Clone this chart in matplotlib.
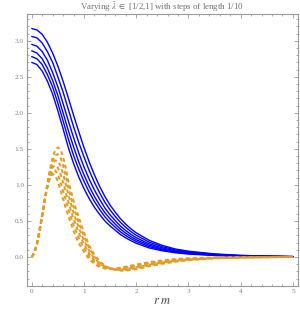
import matplotlib.pyplot as plt
from matplotlib.ticker import MultipleLocator

# radial grid for the profile curves (r m)
r_blue = [0, 0.1, 0.2, 0.3, 0.4, 0.5, 0.6, 0.7, 0.8, 0.9, 1.0, 1.1, 1.2, 1.3, 1.4,
          1.5, 1.6, 1.7, 1.8, 1.9, 2.0, 2.25, 2.5, 2.75, 3.0, 3.5, 4.0, 4.5, 5.0]

# solid blue profiles, one per lambda value
blue_1 = [3.17, 3.15, 3.09, 2.98, 2.83, 2.65, 2.44, 2.21, 1.97, 1.74, 1.52, 1.32, 1.14, 0.98, 0.84,
          0.72, 0.62, 0.53, 0.455, 0.39, 0.335, 0.23, 0.16, 0.11, 0.08, 0.042, 0.022, 0.012, 0.006]
blue_2 = [3.06, 3.04, 2.97, 2.85, 2.70, 2.50, 2.29, 2.05, 1.81, 1.59, 1.39, 1.20, 1.035, 0.89, 0.76,
          0.652, 0.561, 0.479, 0.411, 0.351, 0.301, 0.205, 0.142, 0.098, 0.071, 0.037, 0.019, 0.010, 0.005]
blue_3 = [2.95, 2.925, 2.85, 2.73, 2.56, 2.36, 2.13, 1.89, 1.66, 1.445, 1.25, 1.08, 0.93, 0.80, 0.68,
          0.584, 0.503, 0.427, 0.366, 0.313, 0.267, 0.181, 0.125, 0.086, 0.061, 0.032, 0.016, 0.009, 0.004]
blue_4 = [2.86, 2.83, 2.75, 2.62, 2.45, 2.24, 2.00, 1.755, 1.53, 1.32, 1.14, 0.98, 0.84, 0.72, 0.616,
          0.529, 0.455, 0.385, 0.33, 0.281, 0.239, 0.161, 0.110, 0.076, 0.054, 0.027, 0.014, 0.007, 0.003]
blue_5 = [2.78, 2.75, 2.67, 2.53, 2.36, 2.135, 1.89, 1.64, 1.41, 1.22, 1.05, 0.90, 0.77, 0.66, 0.558,
          0.479, 0.412, 0.347, 0.297, 0.253, 0.215, 0.143, 0.098, 0.067, 0.047, 0.024, 0.012, 0.006, 0.003]
blue_6 = [2.70, 2.67, 2.58, 2.44, 2.26, 2.03, 1.78, 1.52, 1.30, 1.11, 0.95, 0.81, 0.69, 0.59, 0.50,
          0.43, 0.37, 0.31, 0.265, 0.225, 0.19, 0.125, 0.085, 0.058, 0.04, 0.02, 0.01, 0.005, 0.002]

r_orange = [0, 0.05, 0.1, 0.15, 0.2, 0.25, 0.3, 0.35, 0.4, 0.45, 0.5, 0.55, 0.6, 0.65, 0.7,
            0.8, 0.9, 1.0, 1.1, 1.2, 1.3, 1.4, 1.5, 1.6, 1.7, 1.8,
            2.0, 2.25, 2.5, 2.75, 3.0, 3.5, 4.0, 4.5, 5.0]

# dashed orange curves
orange_1 = [0, 0.05, 0.17, 0.34, 0.55, 0.79, 1.02, 1.22, 1.38, 1.48, 1.52, 1.49, 1.39, 1.24, 1.06,
            0.78, 0.55, 0.34, 0.16, 0.03, -0.06, -0.12, -0.16, -0.18, -0.19, -0.19,
            -0.17, -0.13, -0.095, -0.066, -0.045, -0.02, -0.009, -0.004, -0.001]
orange_2 = [0, 0.052, 0.174, 0.348, 0.56, 0.792, 1.008, 1.194, 1.334, 1.41, 1.426, 1.378, 1.272, 1.128, 0.962,
            0.696, 0.478, 0.286, 0.122, 0.004, -0.076, -0.128, -0.161, -0.176, -0.182, -0.179,
            -0.157, -0.118, -0.085, -0.059, -0.040, -0.018, -0.008, -0.003, -0.001]
orange_3 = [0, 0.054, 0.178, 0.356, 0.57, 0.794, 0.996, 1.168, 1.288, 1.34, 1.332, 1.266, 1.154, 1.016, 0.864,
            0.612, 0.406, 0.232, 0.084, -0.022, -0.092, -0.136, -0.162, -0.172, -0.174, -0.168,
            -0.144, -0.107, -0.076, -0.052, -0.035, -0.015, -0.007, -0.003, -0.001]
orange_4 = [0, 0.056, 0.182, 0.364, 0.58, 0.796, 0.984, 1.142, 1.242, 1.27, 1.238, 1.154, 1.036, 0.904, 0.766,
            0.528, 0.334, 0.178, 0.046, -0.048, -0.108, -0.144, -0.163, -0.168, -0.166, -0.157,
            -0.131, -0.095, -0.066, -0.044, -0.029, -0.013, -0.005, -0.002, 0]
orange_5 = [0, 0.058, 0.186, 0.372, 0.59, 0.798, 0.972, 1.116, 1.196, 1.20, 1.144, 1.042, 0.918, 0.792, 0.668,
            0.444, 0.262, 0.124, 0.008, -0.074, -0.124, -0.152, -0.164, -0.164, -0.158, -0.146,
            -0.118, -0.084, -0.057, -0.037, -0.024, -0.010, -0.004, -0.002, 0]
orange_6 = [0, 0.06, 0.19, 0.38, 0.60, 0.80, 0.96, 1.09, 1.15, 1.13, 1.05, 0.93, 0.80, 0.68, 0.57,
            0.36, 0.19, 0.07, -0.03, -0.10, -0.14, -0.16, -0.165, -0.16, -0.15, -0.135,
            -0.105, -0.072, -0.047, -0.030, -0.019, -0.008, -0.003, -0.001, 0]

blue_curves = [blue_1, blue_2, blue_3, blue_4, blue_5, blue_6]
orange_curves = [orange_1, orange_2, orange_3, orange_4, orange_5, orange_6]

plt.rcParams["font.family"] = ["Liberation Serif", "DejaVu Serif"]
plt.rcParams["mathtext.fontset"] = "stix"

fig = plt.figure(figsize=(3.0, 3.13), dpi=100)
ax = fig.add_axes([0.089, 0.087, 0.903, 0.868])

for vals in blue_curves:
    ax.plot(r_blue, vals, color="#0000ff", lw=1.0, solid_capstyle="round")
for vals in orange_curves:
    ax.plot(r_orange, vals, color="#e19c24", lw=1.4, linestyle=(0, (2.0, 1.6)))

ax.set_xlim(-0.096, 5.09)
ax.set_ylim(-0.40, 3.37)

frame_col = "#9a9a9a"
for side in ax.spines.values():
    side.set_color(frame_col)
    side.set_linewidth(0.8)

ax.xaxis.set_major_locator(MultipleLocator(1))
ax.xaxis.set_minor_locator(MultipleLocator(0.2))
ax.yaxis.set_major_locator(MultipleLocator(0.5))
ax.yaxis.set_minor_locator(MultipleLocator(0.1))
ax.xaxis.set_major_formatter(plt.FuncFormatter(lambda v, p: f"{v:.0f}"))
ax.yaxis.set_major_formatter(plt.FuncFormatter(lambda v, p: f"{v:.1f}"))

ax.tick_params(which="both", direction="in", top=True, right=True, color=frame_col,
               labelcolor="#808080", labelsize=5.2, width=0.6, pad=2)
ax.tick_params(which="major", length=3.0)
ax.tick_params(which="minor", length=1.6)

ax.set_title(r"Varying $\tilde{\lambda}$ $\in$ [1/2,1] with steps of length 1/10",
             fontsize=6.4, color="#707070", pad=2.5)
ax.set_xlabel(r"$r\ m$", fontsize=9, color="#444444", labelpad=1)

fig.savefig("out.png", dpi=100)
